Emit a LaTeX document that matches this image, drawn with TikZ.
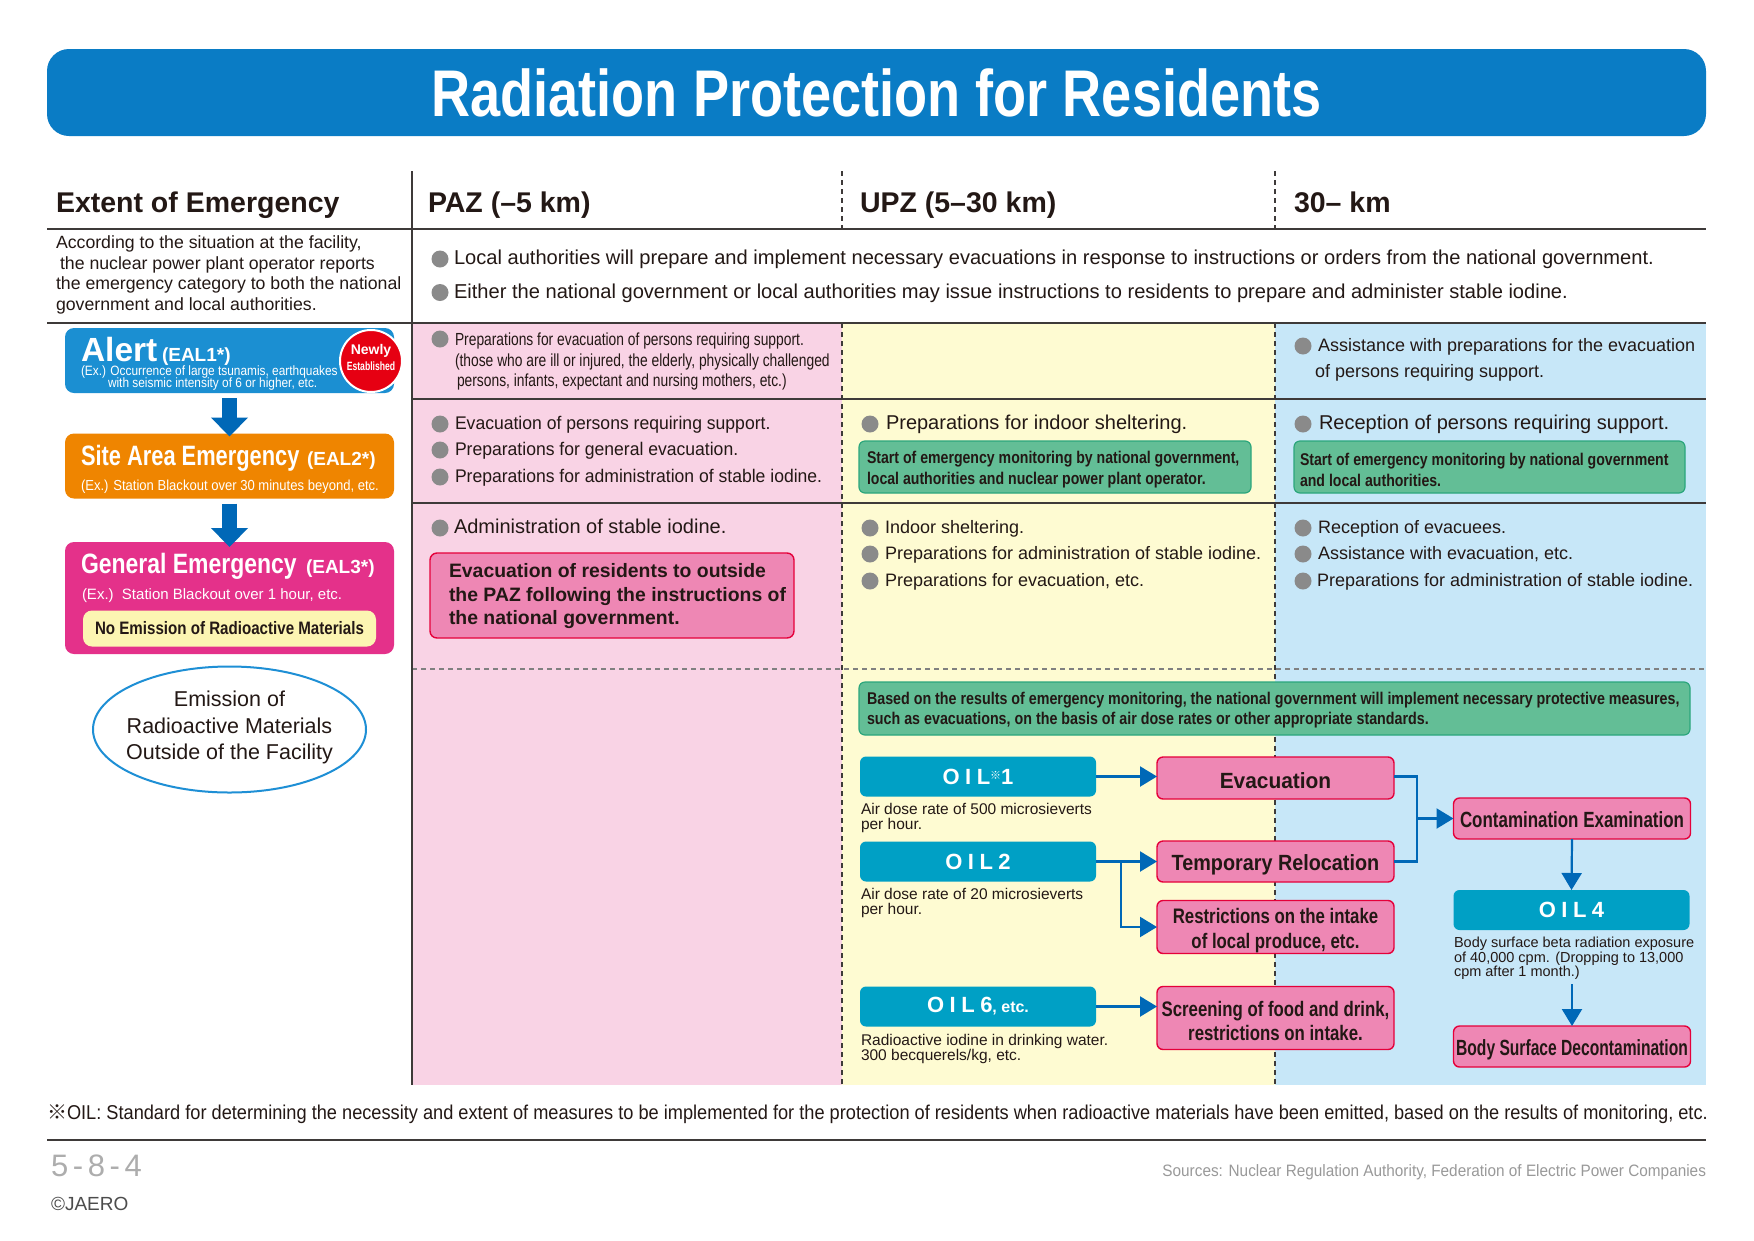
\documentclass[tikz,border=0pt]{standalone}
\usepackage{fontspec}
\setmainfont{Liberation Sans}
\newfontfamily\titlef[FakeStretch=0.82]{Liberation Sans}
\newfontfamily\oilf[LetterSpace=25]{Liberation Sans}
\newfontfamily\cjkf{Noto Sans CJK JP}
\newcommand\sq[1]{\addfontfeatures{FakeStretch=#1}}
\usetikzlibrary{arrows.meta,shapes.geometric}
\definecolor{titleblue}{HTML}{0A7CC5}
\definecolor{txt}{HTML}{231815}
\definecolor{pinkbg}{HTML}{F9D3E5}
\definecolor{yellowbg}{HTML}{FEFBD2}
\definecolor{bluebg}{HTML}{C7E7F8}
\definecolor{alertblue}{HTML}{1B8FD2}
\definecolor{saeorange}{HTML}{EF8500}
\definecolor{gemag}{HTML}{E4318A}
\definecolor{paleyel}{HTML}{FCF5B2}
\definecolor{arrblue}{HTML}{0068B7}
\definecolor{newred}{HTML}{E60012}
\definecolor{pinkbox}{HTML}{EE87B4}
\definecolor{pinkline}{HTML}{E5003A}
\definecolor{greenbox}{HTML}{63BE96}
\definecolor{greenline}{HTML}{2BA67C}
\definecolor{oilteal}{HTML}{00A0C5}
\definecolor{bulgray}{HTML}{8A8A8A}
\definecolor{rule}{HTML}{3E3A39}
\definecolor{ellblue}{HTML}{1E8FD5}
\begin{document}
\begin{tikzpicture}[x=1pt,y=-1pt,
  every node/.style={inner sep=0pt,outer sep=0pt,text=txt},
  hdr/.style={anchor=base west,font=\bfseries\fontsize{28.5}{30}\selectfont},
  line/.style={anchor=west,text height=14pt,text depth=4pt},
  bodyL/.style={line,font=\fontsize{20.1}{22}\selectfont},
  bodyA/.style={line,font=\fontsize{18.3}{22}\selectfont\sq{0.96}},
  bodyB/.style={line,font=\fontsize{20}{22}\selectfont},
  bodyC/.style={line,font=\fontsize{18}{22}\selectfont},
  bul/.style={circle,fill=bulgray,minimum size=17pt},
  solidrule/.style={draw=rule,line width=1.6pt},
  dashrule/.style={draw=rule,line width=1.2pt,dash pattern=on 5pt off 4pt},
  lbox/.style={rounded corners=9pt,minimum width=329pt},
  bigarrow/.style={draw=arrblue,line width=15pt,-{Triangle[width=36pt,length=19pt]}},
  greenb/.style={draw=greenline,line width=1.2pt,fill=greenbox,rounded corners=6pt},
  greent/.style={anchor=west,align=left,font=\bfseries\fontsize{17}{21}\selectfont\sq{0.83}},
  pinkb/.style={draw=pinkline,line width=1.4pt,fill=pinkbox,rounded corners=6pt,minimum width=237pt},
  pinkt/.style={align=center,font=\bfseries\fontsize{22}{24.5}\selectfont},
  oilb/.style={fill=oilteal,rounded corners=6pt,minimum width=236pt,minimum height=40pt,
     text=white,font=\oilf\bfseries\fontsize{22}{22}\selectfont},
  desc/.style={anchor=north west,align=left,font=\fontsize{15.5}{15}\selectfont},
  flow/.style={draw=arrblue,line width=2.2pt,-{Triangle[width=20pt,length=17pt]}},
  flowline/.style={draw=arrblue,line width=2.2pt}
]
\useasboundingbox (0,0) rectangle (1754,1240);
\fill[white] (0,0) rectangle (1754,1240);

% ---------- title ----------
\node[fill=titleblue,rounded corners=22pt,minimum width=1659pt,minimum height=87pt,
  text=white,font=\titlef\bfseries\fontsize{66}{66}\selectfont] (title) at (876.5,92.5)
  {Radiation Protection for Residents};

% ---------- column backgrounds ----------
\fill[pinkbg] (412,323) rectangle (842,1085);
\fill[yellowbg] (842,323) rectangle (1275,1085);
\fill[bluebg] (1275,323) rectangle (1706,1085);

% ---------- grid ----------
\draw[solidrule] (47,229) -- (1706,229);
\draw[solidrule] (47,323) -- (1706,323);
\draw[solidrule] (412,399) -- (1706,399);
\draw[solidrule] (412,503) -- (1706,503);
\draw[dashrule,draw=gray] (412,669) -- (1706,669);
\draw[solidrule] (412,171) -- (412,1085);
\draw[dashrule] (842,171) -- (842,229);
\draw[dashrule] (842,323) -- (842,1085);
\draw[dashrule] (1275,171) -- (1275,229);
\draw[dashrule] (1275,323) -- (1275,1085);

% ---------- headers ----------
\node[hdr] (h0) at (56,212) {Extent of Emergency};
\node[hdr] (h1) at (428,212) {PAZ (–5 km)};
\node[hdr] (h2) at (860,212) {UPZ (5–30 km)};
\node[hdr] (h3) at (1294,212) {30– km};

% ---------- general row ----------
\node[anchor=north west,align=left,font=\fontsize{17.7}{20.4}\selectfont] (gdesc) at (56,236)
  {According to the situation at the facility,\\
   \hspace{4pt}the nuclear power plant operator reports\\
   the emergency category to both the national\\
   government and local authorities.};
\node[bul] (g1) at (440,259) {};
\node[bodyL] (g1t) at (454,259.5) {Local authorities will prepare and implement necessary evacuations in response to instructions or orders from the national government.};
\node[bul] (g2) at (440,292.5) {};
\node[bodyL] (g2t) at (454,293) {Either the national government or local authorities may issue instructions to residents to prepare and administer stable iodine.};

% ---------- left column: emergency categories ----------
\node[lbox,fill=alertblue,minimum height=65pt] (alert) at (229.5,360.5) {};
\node[anchor=base west,text=white,font=\bfseries\fontsize{33.5}{33}\selectfont] (alertt) at (81,361) {Alert};
\node[anchor=base west,text=white,font=\bfseries\fontsize{19}{19}\selectfont] (alertc) at (162,361) {(EAL1*)};
\node[anchor=west,text=white,font=\fontsize{13.5}{13}\selectfont\sq{0.88}] (alertx1) at (81,372) {(Ex.) Occurrence of large tsunamis, earthquakes};
\node[anchor=west,text=white,font=\fontsize{13.5}{13}\selectfont\sq{0.88}] (alertx2) at (108,384) {with seismic intensity of 6 or higher, etc.};
\node[circle,fill=newred,draw=white,line width=2pt,minimum size=62pt] (newly) at (371,361) {};
\node[text=white,font=\bfseries\fontsize{14}{14}\selectfont] (newly1) at (371,351) {Newly};
\node[text=white,font=\bfseries\fontsize{12}{12}\selectfont\sq{0.72}] (newly2) at (371,366) {Established};

\node[lbox,fill=saeorange,minimum height=65pt] (sae) at (229.5,466) {};
\node[anchor=base west,text=white,font=\bfseries\fontsize{28}{28}\selectfont\sq{0.78}] (saet) at (81,465) {Site Area Emergency};
\node[anchor=base west,text=white,font=\bfseries\fontsize{19}{19}\selectfont] (saec) at (307,465) {(EAL2*)};
\node[anchor=west,text=white,font=\fontsize{14.5}{14}\selectfont\sq{0.9}] (saex) at (81,487) {(Ex.) Station Blackout over 30 minutes beyond, etc.};

\node[lbox,fill=gemag,minimum height=112pt] (ge) at (229.5,598) {};
\node[anchor=base west,text=white,font=\bfseries\fontsize{28}{28}\selectfont\sq{0.82}] (get) at (81,573) {General Emergency};
\node[anchor=base west,text=white,font=\bfseries\fontsize{19}{19}\selectfont] (gec) at (306,573) {(EAL3*)};
\node[anchor=west,text=white,font=\fontsize{15}{15}\selectfont] (gex) at (82,596) {(Ex.)\ \ Station Blackout over 1 hour, etc.};
\node[fill=paleyel,rounded corners=9pt,minimum width=293pt,minimum height=36pt,
  font=\bfseries\fontsize{18}{18}\selectfont\sq{0.84}] (noem) at (229.5,628.5) {No Emission of Radioactive Materials};

\draw[bigarrow] ([yshift=-5pt]alert.south) -- ([yshift=-3pt]sae.north);
\draw[bigarrow] ([yshift=-5pt]sae.south) -- ([yshift=-5pt]ge.north);

\node[ellipse,draw=ellblue,line width=2pt,fill=white,minimum width=273pt,minimum height=126pt] (emis) at (229.5,729.5) {};
\node[align=center,font=\fontsize{21.5}{26.8}\selectfont] (emist) at (229.5,727.5)
  {Emission of\\Radioactive Materials\\Outside of the Facility};

% ---------- Alert row ----------
\node[bul] (p21) at (440,339) {};
\node[anchor=north west,align=left,font=\fontsize{17.5}{20.5}\selectfont\sq{0.79}] (p21t) at (455,333)
  {Preparations for evacuation of persons requiring support.\\
   (those who are ill or injured, the elderly, physically challenged\\
   \hspace{2pt}persons, infants, expectant and nursing mothers, etc.)};
\node[bul] (k21) at (1303,346) {};
\node[bodyC] (k21t) at (1318,346) {Assistance with preparations for the evacuation};
\node[bodyC] (k22t) at (1315,372) {of persons requiring support.};

% ---------- Site area row ----------
\node[bul] (p31) at (440,424) {};
\node[bodyA] (p31t) at (455,424) {Evacuation of persons requiring support.};
\node[bul] (p32) at (440,450) {};
\node[bodyA] (p32t) at (455,450) {Preparations for general evacuation.};
\node[bul] (p33) at (440,477) {};
\node[bodyA] (p33t) at (455,477) {Preparations for administration of stable iodine.};

\node[bul] (u31) at (870,424) {};
\node[bodyB] (u31t) at (886,424) {Preparations for indoor sheltering.};
\node[greenb,minimum width=392pt,minimum height=52pt] (u3g) at (1055,467) {};
\node[greent] (u3gt) at (867,470)
  {Start of emergency monitoring by national government,\\local authorities and nuclear power plant operator.};

\node[bul] (k31) at (1303,424) {};
\node[bodyB] (k31t) at (1319,424) {Reception of persons requiring support.};
\node[greenb,minimum width=391pt,minimum height=52pt] (k3g) at (1489.5,467) {};
\node[greent] (k3gt) at (1300,470)
  {Start of emergency monitoring by national government\\and local authorities.};

% ---------- General emergency row ----------
\node[bul] (p41) at (440,528) {};
\node[bodyB] (p41t) at (454,528) {Administration of stable iodine.};
\node[draw=pinkline,line width=1.4pt,fill=pinkbox,rounded corners=7pt,minimum width=364pt,minimum height=85pt] (pazev) at (612,595.5) {};
\node[anchor=west,align=left,font=\bfseries\fontsize{19.4}{23.5}\selectfont] (pazevt) at (449,596.5)
  {Evacuation of residents to outside\\the PAZ following the instructions of\\the national government.};

\node[bul] (u41) at (870,528) {};
\node[bodyC] (u41t) at (885,528) {Indoor sheltering.};
\node[bul] (u42) at (870,554) {};
\node[bodyC] (u42t) at (885,554) {Preparations for administration of stable iodine.};
\node[bul] (u43) at (870,581) {};
\node[bodyC] (u43t) at (885,581) {Preparations for evacuation, etc.};

\node[bul] (k41) at (1303,528) {};
\node[bodyC] (k41t) at (1318,528) {Reception of evacuees.};
\node[bul] (k42) at (1303,554) {};
\node[bodyC] (k42t) at (1318,554) {Assistance with evacuation, etc.};
\node[bul] (k43) at (1303,581) {};
\node[bodyC] (k43t) at (1317,581) {Preparations for administration of stable iodine.};

% ---------- Emission row ----------
\node[greenb,minimum width=831pt,minimum height=53pt] (bg) at (1274.5,708.5) {};
\node[greent,font=\bfseries\fontsize{17}{20.5}\selectfont\sq{0.84}] (bgt) at (867,710)
  {Based on the results of emergency monitoring, the national government will implement necessary protective measures,\\
   such as evacuations, on the basis of air dose rates or other appropriate standards.};

\node[oilb] (oil1) at (978,776.5) {OIL\raisebox{5pt}{\cjkf\mdseries\fontsize{11}{11}\selectfont ※}1};
\node[desc] (oil1d) at (861,803) {Air dose rate of 500 microsieverts\\per hour.};
\node[oilb] (oil2) at (978,861.5) {OIL2};
\node[desc] (oil2d) at (861,888) {Air dose rate of 20 microsieverts\\per hour.};
\node[oilb] (oil6) at (978,1006.5) {OIL6{\fontsize{16}{16}\selectfont\addfontfeatures{LetterSpace=0}, etc.}};
\node[desc] (oil6d) at (861,1034) {Radioactive iodine in drinking water.\\300 becquerels/kg, etc.};

\node[pinkb,minimum height=42pt] (evac) at (1275.5,778) {};
\node[pinkt,font=\bfseries\fontsize{22}{24.5}\selectfont\sq{0.95}] (evact) at ([yshift=-3pt]evac.center) {Evacuation};
\node[pinkb,minimum height=41pt] (temp) at (1275.5,861.5) {};
\node[pinkt,font=\bfseries\fontsize{22}{24.5}\selectfont\sq{0.9}] (tempt) at ([yshift=-3pt]temp.center) {Temporary Relocation};
\node[pinkb,minimum height=53pt] (restr) at (1275.5,927) {};
\node[pinkt,font=\bfseries\fontsize{21}{24.5}\selectfont\sq{0.8}] (restrt) at ([yshift=-3.5pt]restr.center) {Restrictions on the intake\\of local produce, etc.};
\node[pinkb,minimum height=63pt] (screen) at (1275.5,1018) {};
\node[pinkt,font=\bfseries\fontsize{21}{24.5}\selectfont\sq{0.8}] (screent) at ([yshift=-3pt]screen.center) {Screening of food and drink,\\restrictions on intake.};
\node[pinkb,minimum height=41pt] (contam) at (1572,818.5) {};
\node[pinkt,font=\bfseries\fontsize{22}{24.5}\selectfont\sq{0.77}] (contamt) at ([yshift=-1.5pt]contam.center) {Contamination Examination};
\node[oilb] (oil4) at (1571.5,910) {OIL4};
\node[desc,font=\fontsize{14.5}{14.5}\selectfont] (oil4d) at (1454,937) {Body surface beta radiation exposure\\of 40,000 cpm. (Dropping to 13,000\\cpm after 1 month.)};
\node[pinkb,minimum height=41pt] (body) at (1572,1046.5) {};
\node[pinkt,font=\bfseries\fontsize{22}{24.5}\selectfont\sq{0.71}] (bodyt) at ([yshift=-3pt]body.center) {Body Surface Decontamination};

% ---------- flow connectors ----------
\draw[flow] (oil1.east) -- (oil1.east -| evac.west);
\draw[flow] (oil2.east) -- (oil2.east -| temp.west);
\coordinate (br) at (1121,861.5);
\draw[flow] (br) |- (restr.west);
\draw[flow] (oil6.east) -- (oil6.east -| screen.west);
\coordinate (jn) at (1417,818.5);
\draw[flowline] (evac.east |- oil1.east) -| (jn);
\draw[flowline] (temp.east) -| (jn);
\draw[flow] (jn) -- (contam.west);
\draw[flow] (contam.south) -- (oil4.north);
\coordinate (d4) at (1572,984);
\draw[flow] (d4) -- (body.north);

% ---------- footnote & footer ----------
\node[anchor=west,font=\fontsize{20}{20}\selectfont\sq{0.91}] (foot) at (47,1114)
  {{\cjkf ※}OIL: Standard for determining the necessity and extent of measures to be implemented for the protection of residents when radioactive materials have been emitted, based on the results of monitoring, etc.};
\draw[draw=rule,line width=2.4pt] (47,1140) -- (1706,1140);
\node[anchor=west,text=black!32,font=\fontsize{31}{31}\selectfont\addfontfeatures{LetterSpace=15}] (num) at (51,1166) {5-8-4};
\node[anchor=west,text=black!70,font=\fontsize{19}{19}\selectfont] (jaero) at (51,1204) {©JAERO};
\node[anchor=east,text=black!40,font=\fontsize{16.5}{16.5}\selectfont\sq{0.93}] (src) at (1706,1172)
  {Sources: Nuclear Regulation Authority, Federation of Electric Power Companies};
\end{tikzpicture}
\end{document}
